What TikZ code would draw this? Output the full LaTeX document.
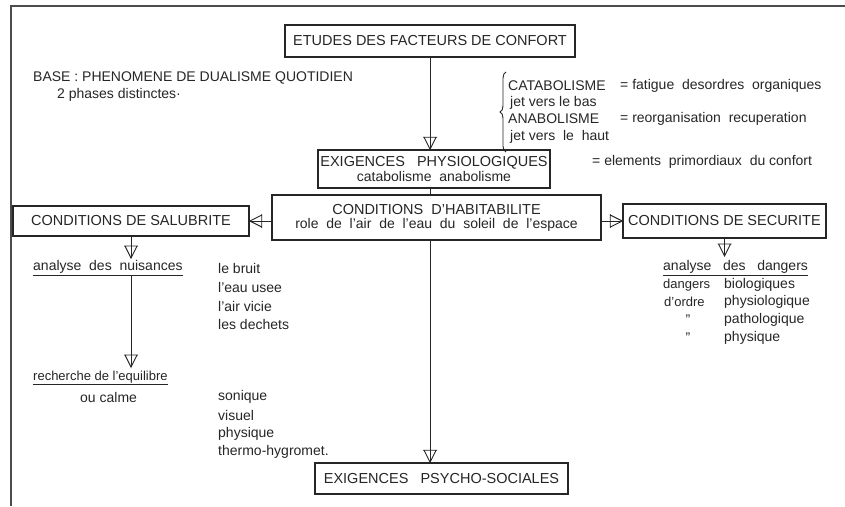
\documentclass[tikz,border=0pt]{standalone}
\usepackage{fontspec}
\setmainfont{Liberation Sans}
\usetikzlibrary{decorations.markings,decorations.pathreplacing}
\begin{document}
\begin{tikzpicture}[x=1pt,y=-1pt,
  box/.style={draw=black!85, line width=1.5pt, inner sep=0pt, align=center, text=black!85},
  conn/.style={draw=black!85, line width=0.9pt},
  tri/.style={postaction={decorate},decoration={markings,mark=at position 1 with {\draw[black!85,line width=0.9pt,line join=miter] (-12pt,-7pt) -- (-12pt,7pt) (-12pt,-6pt) -- (0pt,0pt) -- (-12pt,6pt);}}},
  capt/.style={font=\fontsize{14.5}{16}\selectfont},
  lo/.style={font=\fontsize{14}{16}\selectfont, inner sep=0pt, anchor=west, text=black!85},
  loc/.style={font=\fontsize{14}{16}\selectfont, inner sep=0pt, text=black!85},
]
\useasboundingbox (0,0) rectangle (845,506);
\fill[white] (0,0) rectangle (845,506);
% frame
\draw[black!70, line width=1.6pt] (11,506) -- (11,6) -- (845,6);

% boxes
\node[box, capt, minimum width=290pt, minimum height=32pt] (b1) at (430,41) {ETUDES\ DES\ FACTEURS\ DE\ CONFORT};
\node[box, minimum width=232pt, minimum height=38pt] (b2) at (434,169)
  {{\fontsize{14.5}{16}\selectfont EXIGENCES\ \ \ PHYSIOLOGIQUES}\\[1pt]{\fontsize{14}{16}\selectfont catabolisme\ \ anabolisme}};
\node[box, minimum width=329pt, minimum height=45pt] (b3) at (436.5,217.5)
  {{\fontsize{14.5}{16}\selectfont CONDITIONS\ \ D'HABITABILITE}\\[2pt]{\fontsize{14}{16}\selectfont role\ \ de\ \ l'air\ \ de\ \ l'eau\ \ du\ \ soleil\ \ de\ \ l'espace}};
\node[box, capt, minimum width=236pt, minimum height=30pt] (b4) at (131,221) {CONDITIONS\ DE\ SALUBRITE};
\node[box, capt, minimum width=203pt, minimum height=34pt] (b5) at (724.5,221) {CONDITIONS\ DE\ SECURITE};
\node[box, capt, minimum width=253pt, minimum height=31pt] (b6) at (441.5,478.5) {EXIGENCES\ \ \ PSYCHO-SOCIALES};

% top texts
\node[lo] (base) at (33,78) {BASE : PHENOMENE DE DUALISME QUOTIDIEN};
\node[lo] (phases) at (57,95) {2 phases distinctes·};

\draw[black!85, line width=0.9pt, decorate, decoration={brace, amplitude=6pt}] (506,152) -- (506,72);
\node[lo] (cata) at (508,86) {CATABOLISME};
\node[lo] (catad) at (620,86) {= fatigue\ \ desordres\ \ organiques};
\node[lo] (bas) at (510,103) {jet vers le bas};
\node[lo] (ana) at (508,119) {ANABOLISME};
\node[lo] (anad) at (620,119) {= reorganisation\ \ recuperation};
\node[lo] (haut) at (510,137) {jet vers\ \ le\ \ haut};
\node[lo] (prim) at (592,162) {=\ elements\ \ primordiaux\ \ du\ confort};

% left column
\node[lo] (nuis) at (33,268) {\underline{analyse\ \ des\ \ nuisances}};
\node[lo] (n1) at (218,268) {le bruit};
\node[lo] (n2) at (218,287) {l'eau usee};
\node[lo] (n3) at (218,306) {l'air vicie};
\node[lo] (n4) at (218,324) {les dechets};
\node[lo, font=\fontsize{13}{15}\selectfont] (rech) at (33,378) {\underline{recherche de\ l'equilibre}};
\node[lo] (calme) at (80,397) {ou calme};
\node[lo] (s1) at (218,397) {sonique};
\node[lo] (s2) at (218,415) {visuel};
\node[lo] (s3) at (218,434) {physique};
\node[lo] (s4) at (218,452) {thermo-hygromet.};

% right column
\node[lo] (dang) at (663,268) {\underline{analyse\ \ \ des\ \ \ dangers}};
\node[lo, font=\fontsize{13}{15}\selectfont] (d1a) at (663,285) {dangers};
\node[lo] (d1b) at (724,285) {biologiques};
\node[lo, font=\fontsize{13}{15}\selectfont] (d2a) at (664,302) {d'ordre};
\node[lo] (d2b) at (724,302) {physiologique};
\node[loc] (d3a) at (688,320) {\raisebox{-3pt}{"}};
\node[lo] (d3b) at (724,320) {pathologique};
\node[loc] (d4a) at (688,338) {\raisebox{-3pt}{"}};
\node[lo] (d4b) at (724,338) {physique};

% coordinates for free ends
\coordinate (t1) at (131,258);
\coordinate (s1top) at (131,276);
\coordinate (t2) at (131,367);
\coordinate (t3) at (724.5,256);

% connectors
\draw[conn, tri] (b1.south) -- (b1.south |- b2.north);
\draw[conn] (b1.south |- b2.south) -- (b1.south |- b3.north);
\draw[conn, tri] (b3.west |- b4.east) -- (b4.east);
\draw[conn, tri] (b3.east |- b5.west) -- (b5.west);
\draw[conn, tri] (b1.south |- b3.south) -- (b1.south |- b6.north);
\draw[conn, tri] (b4.south) -- (t1);
\draw[conn, tri] (s1top) -- (t2);
\draw[conn, tri] (b5.south) -- (t3);
\end{tikzpicture}
\end{document}
